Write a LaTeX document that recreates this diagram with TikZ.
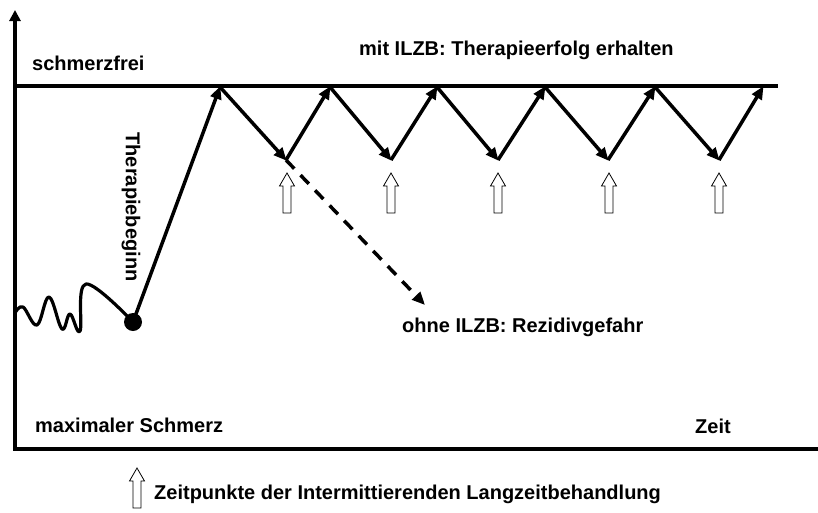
\documentclass[tikz,border=0pt]{standalone}
\usepackage{fontspec}
\setmainfont{Liberation Sans}
\usetikzlibrary{arrows.meta}
\begin{document}
\begin{tikzpicture}[x=1pt,y=-1pt,
  lbl/.style={font=\fontsize{20}{24}\selectfont\bfseries, inner sep=0pt, anchor=base west},
  thick line/.style={line width=3.5pt},
  zig/.style={line width=3.5pt, -{Triangle[length=13pt,width=11pt]}, shorten >=-1pt},
  openarrow/.pic={\draw[line width=0.8pt, fill=white] (-4,0) -- (-4,-27) -- (-7.5,-27) -- (0,-40) -- (7.5,-27) -- (4,-27) -- (4,0) -- cycle;}
]
\useasboundingbox (0,0) rectangle (818,512);
% axes
\coordinate (o) at (15,449);
\coordinate (ytop) at (15,10);
\coordinate (xend) at (818,449);
\draw[thick line, -{Triangle[length=11pt,width=11pt]}] (o) -- (ytop);
\draw[thick line] ([xshift=-1.75pt]o) -- (xend);
% top line
\coordinate (tl) at (15,86);
\coordinate (tr) at (778,86);
\draw[thick line] (tl) -- (tr);
% labels
\node[lbl] (schm) at (32,70) {schmerzfrei};
\node[lbl] (mit) at (359,55) {mit ILZB: Therapieerfolg erhalten};
\node[lbl] (ohne) at (402,332) {ohne ILZB: Rezidivgefahr};
\node[lbl] (max) at (35,432) {maximaler Schmerz};
\node[lbl] (zeit) at (695,433) {Zeit};
\node[font=\fontsize{20}{24}\selectfont\bfseries, inner sep=0pt, rotate=-90] (beg) at (131,207) {Therapiebeginn};
% squiggle
\draw[line width=3.2pt, line join=round, line cap=round] plot[smooth, tension=0.65] coordinates {(15,313) (23,307) (37,325) (49,297) (62,329) (70,314) (80,331) (86,284) (133,322)};
\node[circle, fill=black, minimum size=18pt, inner sep=0pt] (dot) at (133,322) {};
% zigzag
\coordinate (p1) at (220,87);
\coordinate (v1) at (286,160);
\coordinate (p2) at (330,87);
\coordinate (v2) at (391,160);
\coordinate (p3) at (437,87);
\coordinate (v3) at (498,160);
\coordinate (p4) at (545,87);
\coordinate (v4) at (608,160);
\coordinate (p5) at (655,87);
\coordinate (v5) at (719,160);
\coordinate (p6) at (763,87);
\draw[zig] (dot.center) -- (p1);
\draw[zig] (p1) -- (v1);
\draw[zig] (v1) -- (p2);
\draw[zig] (p2) -- (v2);
\draw[zig] (v2) -- (p3);
\draw[zig] (p3) -- (v3);
\draw[zig] (v3) -- (p4);
\draw[zig] (p4) -- (v4);
\draw[zig] (v4) -- (p5);
\draw[zig] (p5) -- (v5);
\draw[zig] (v5) -- (p6);
% dashed arrow
\coordinate (dend) at (425,305);
\draw[line width=3.5pt, dash pattern=on 12pt off 9pt, -{Triangle[length=13pt,width=11pt]}] (v1) -- (dend);
% open arrows
\pic at (287,213) {openarrow};
\pic at (391,213) {openarrow};
\pic at (498,213) {openarrow};
\pic at (609,213) {openarrow};
\pic at (719,213) {openarrow};
% legend
\pic at (137,508) {openarrow};
\node[lbl] (leg) at (154,499) {Zeitpunkte der Intermittierenden Langzeitbehandlung};
\end{tikzpicture}
\end{document}
